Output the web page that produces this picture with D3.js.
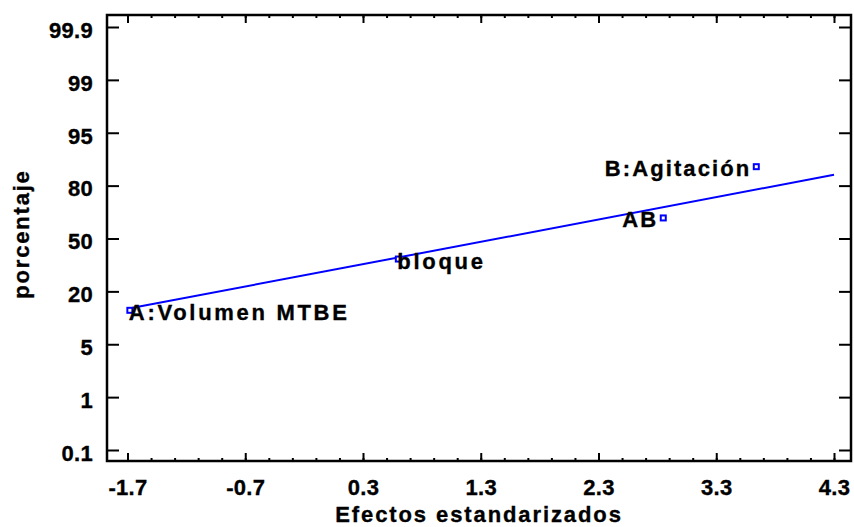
<!DOCTYPE html>
<html>
<head>
<meta charset="utf-8">
<script src="https://cdn.jsdelivr.net/npm/d3@7/dist/d3.min.js"></script>
<style>
  body { margin: 0; background: #fff; }
  svg text { font-family: "Liberation Sans", Arial, sans-serif; font-weight: bold; fill: #000; stroke: #000; stroke-width: 0.35px; }
</style>
</head>
<body>
<svg id="chart" width="854" height="527"></svg>
<script>
// effects (standardized) and their plotting percentages
const effectNames = ['A:Volumen MTBE', 'bloque', 'AB', 'B:Agitación']
const effectValues = [-1.68, 0.60, 2.85, 3.64]
const effectPct = [14.7, 38.2, 61.8, 85.3]

// reference line, two end points
const lineX = [-1.7, 4.3]
const linePct = [15.2, 82.4]

const xTicks = [-1.7, -0.7, 0.3, 1.3, 2.3, 3.3, 4.3]
const yTickLabels = ['0.1', '1', '5', '20', '50', '80', '95', '99', '99.9']

// inverse normal cdf (Acklam)
function probit(p) {
  const a = [-39.6968302866538, 220.946098424521, -275.928510446969, 138.357751867269, -30.6647980661472, 2.50662827745924]
  const b = [-54.4760987982241, 161.585836858041, -155.698979859887, 66.8013118877197, -13.2806815528857]
  const c = [-0.00778489400243029, -0.322396458041136, -2.40075827716184, -2.54973253934373, 4.37466414146497, 2.93816398269878]
  const d = [0.00778469570904146, 0.32246712907004, 2.445134137143, 3.75440866190742]
  let q, r
  if (p < 0.02425) {
    q = Math.sqrt(-2 * Math.log(p))
    return (((((c[0]*q+c[1])*q+c[2])*q+c[3])*q+c[4])*q+c[5]) / ((((d[0]*q+d[1])*q+d[2])*q+d[3])*q+1)
  } else if (p > 1 - 0.02425) {
    q = Math.sqrt(-2 * Math.log(1 - p))
    return -(((((c[0]*q+c[1])*q+c[2])*q+c[3])*q+c[4])*q+c[5]) / ((((d[0]*q+d[1])*q+d[2])*q+d[3])*q+1)
  }
  q = p - 0.5
  r = q * q
  return (((((a[0]*r+a[1])*r+a[2])*r+a[3])*r+a[4])*r+a[5])*q / (((((b[0]*r+b[1])*r+b[2])*r+b[3])*r+b[4])*r+1)
}

const svg = d3.select('#chart')
const frame = { left: 107, right: 851, top: 15, bottom: 461 }

const x = d3.scaleLinear().domain([-1.7, 4.3]).range([127.5, 834])
const zMax = probit(0.999)
const y = d3.scaleLinear().domain([-zMax, zMax]).range([450, 27])
// labels are spaced evenly along the axis
const yLab = d3.scalePoint().domain(yTickLabels).range([450, 27])

const minorTicks = d3.range(-1.7, 4.31, 0.2).map(v => +v.toFixed(1))

// bottom axis, ticks inward
svg.append('g')
  .attr('transform', `translate(0,${frame.bottom})`)
  .call(d3.axisBottom(x).tickValues(minorTicks).tickSize(-3).tickFormat(''))
  .call(g => g.select('.domain').remove())
  .selectAll('line').attr('stroke-width', 2)
svg.append('g')
  .attr('transform', `translate(0,${frame.bottom})`)
  .call(d3.axisBottom(x).tickValues(xTicks).tickSize(-8).tickFormat(d => d.toFixed(1)))
  .call(g => g.select('.domain').remove())
  .call(g => g.selectAll('line').attr('stroke-width', 2))
  .call(g => g.selectAll('text').attr('font-size', 22).attr('letter-spacing', 0.3)
    .attr('y', 34).attr('dy', 0))

// top axis mirrors bottom
svg.append('g')
  .attr('transform', `translate(0,${frame.top})`)
  .call(d3.axisTop(x).tickValues(minorTicks).tickSize(-3).tickFormat(''))
  .call(g => g.select('.domain').remove())
  .selectAll('line').attr('stroke-width', 2)
svg.append('g')
  .attr('transform', `translate(0,${frame.top})`)
  .call(d3.axisTop(x).tickValues(xTicks).tickSize(-8).tickFormat(''))
  .call(g => g.select('.domain').remove())
  .selectAll('line').attr('stroke-width', 2)

// left axis
svg.append('g')
  .attr('transform', `translate(${frame.left},0)`)
  .call(d3.axisLeft(yLab).tickSize(-12))
  .call(g => g.select('.domain').remove())
  .call(g => g.selectAll('line').attr('stroke-width', 2))
  .call(g => g.selectAll('text').attr('font-size', 22).attr('letter-spacing', 0.3)
    .attr('x', -14).attr('dy', '0.47em'))

// right axis
svg.append('g')
  .attr('transform', `translate(${frame.right},0)`)
  .call(d3.axisRight(yLab).tickSize(-12).tickFormat(''))
  .call(g => g.select('.domain').remove())
  .selectAll('line').attr('stroke-width', 2)

// frame
svg.append('rect')
  .attr('x', frame.left).attr('y', frame.top)
  .attr('width', frame.right - frame.left).attr('height', frame.bottom - frame.top)
  .attr('fill', 'none').attr('stroke', '#000').attr('stroke-width', 2.5)

// reference line
svg.append('line')
  .attr('x1', x(lineX[0])).attr('y1', y(probit(linePct[0] / 100)))
  .attr('x2', x(lineX[1])).attr('y2', y(probit(linePct[1] / 100)))
  .attr('stroke', '#0000ff').attr('stroke-width', 2)

const pts = effectNames.map((n, i) => ({ name: n, v: effectValues[i], z: probit(effectPct[i] / 100) }))

svg.append('g').selectAll('rect')
  .data(pts)
  .enter()
  .append('rect')
  .attr('x', d => x(d.v) - 2.5)
  .attr('y', d => y(d.z) - 2.5)
  .attr('width', 5).attr('height', 5)
  .attr('fill', '#fff').attr('stroke', '#0000ff').attr('stroke-width', 2)

// labels: first two to the right of the point, last two to the left
svg.append('g').selectAll('text')
  .data(pts)
  .enter()
  .append('text')
  .attr('x', (d, i) => i < 2 ? x(d.v) - 1 : x(d.v) - 5)
  .attr('y', d => y(d.z) + 9.5)
  .attr('text-anchor', (d, i) => i < 2 ? 'start' : 'end')
  .attr('font-size', 22)
  .attr('letter-spacing', (d, i) => i < 2 ? 2.7 : 2.1)
  .text(d => d.name)

// axis titles
svg.append('text')
  .attr('x', (frame.left + frame.right) / 2)
  .attr('y', 522)
  .attr('text-anchor', 'middle')
  .attr('font-size', 22)
  .attr('letter-spacing', 1.9)
  .text('Efectos estandarizados')

svg.append('text')
  .attr('transform', `translate(29,234) rotate(-90)`)
  .attr('text-anchor', 'middle')
  .attr('font-size', 22)
  .attr('letter-spacing', 1.8)
  .text('porcentaje')
</script>
</body>
</html>
